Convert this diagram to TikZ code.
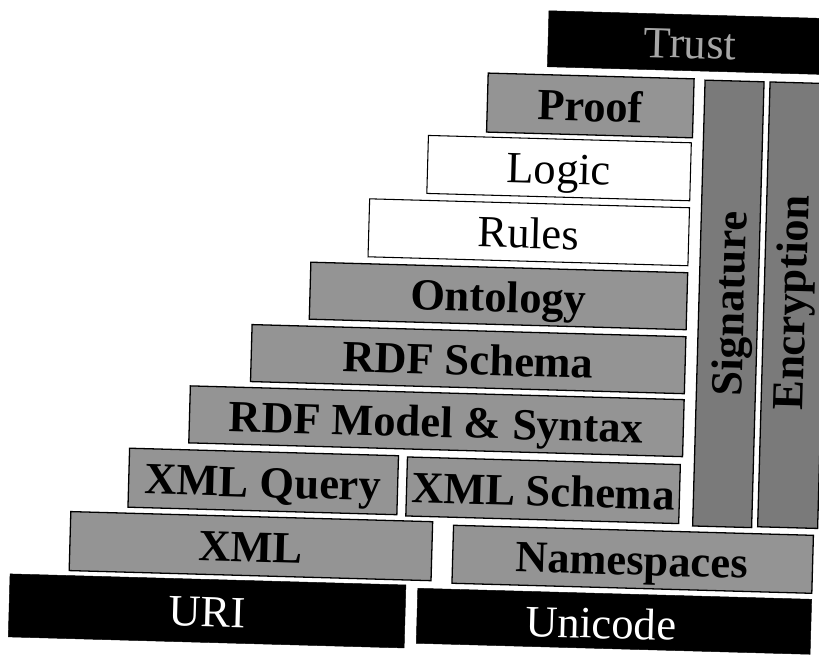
\documentclass[tikz,border=0pt]{standalone}
\usepackage{fontspec}
\setmainfont{Liberation Serif}
\begin{document}
\begin{tikzpicture}[x=0.03cm, y=-0.03cm,
    greybox/.style={draw=black, line width=1.1pt, fill=black!42},
    darkbox/.style={draw=black, line width=1.1pt, fill=black!52},
    whitebox/.style={draw=black, line width=0.9pt, fill=white},
    blackbox/.style={draw=black, fill=black},
    lbl/.style={font=\fontsize{38}{40}\selectfont\bfseries, inner sep=0pt, text height=27pt, text depth=0pt, transform shape},
    plainlbl/.style={font=\fontsize{38}{40}\selectfont, inner sep=0pt, text height=27pt, text depth=0pt, transform shape}]
    \useasboundingbox (0,0) rectangle (819,657);
    \clip (0,0) rectangle (819,657);

    \begin{scope}[rotate around={-1.6:(410,330)}]
        \draw[blackbox] (540,7) rectangle (860,63);
        \node[plainlbl, text=black!35] (trust) at (682,35) {Trust};

        \draw[greybox] (481,71) rectangle (687,130);
        \node[lbl] (proof) at (584,100.5) {Proof};
        \draw[whitebox] (423,135) rectangle (686,193);
        \node[plainlbl] (logic) at (554.5,164) {Logic};
        \draw[whitebox] (366,200) rectangle (686,258);
        \node[plainlbl] (rules) at (526,229) {Rules};
        \draw[greybox] (309,265) rectangle (686,322);
        \node[lbl] (ontology) at (497.5,293.5) {Ontology};
        \draw[greybox] (252,329) rectangle (686,386);
        \node[lbl] (rdfs) at (469,357.5) {RDF Schema};
        \draw[greybox] (192,392) rectangle (686,449);
        \node[lbl] (rdf) at (439,420.5) {RDF Model \& Syntax};

        \draw[greybox] (133,456) rectangle (402,515);
        \node[lbl] (xmlquery) at (267.5,485.5) {XML Query};
        \draw[greybox] (411,457) rectangle (684,516);
        \node[lbl] (xmlschema) at (547.5,486.5) {XML Schema};
        \draw[greybox] (76,521) rectangle (438,580);
        \node[lbl] (xml) at (257,550.5) {XML};
        \draw[greybox] (459,524) rectangle (819,582);
        \node[lbl] (ns) at (638,553) {Namespaces};

        \draw[blackbox] (17,585) rectangle (413,648);
        \node[plainlbl, text=white] (uri) at (215,616.5) {URI};
        \draw[blackbox] (425,588) rectangle (819,643);
        \node[plainlbl, text=white] (unicode) at (609,617) {Unicode};

        \draw[darkbox] (698,72) rectangle (757,518);
        \node[lbl, rotate=90] (sig) at (727.5,295) {Signature};
        \draw[darkbox] (763,72) rectangle (823,517);
        \node[lbl, rotate=90] (enc) at (789,292) {Encryption};
    \end{scope}
\end{tikzpicture}
\end{document}
